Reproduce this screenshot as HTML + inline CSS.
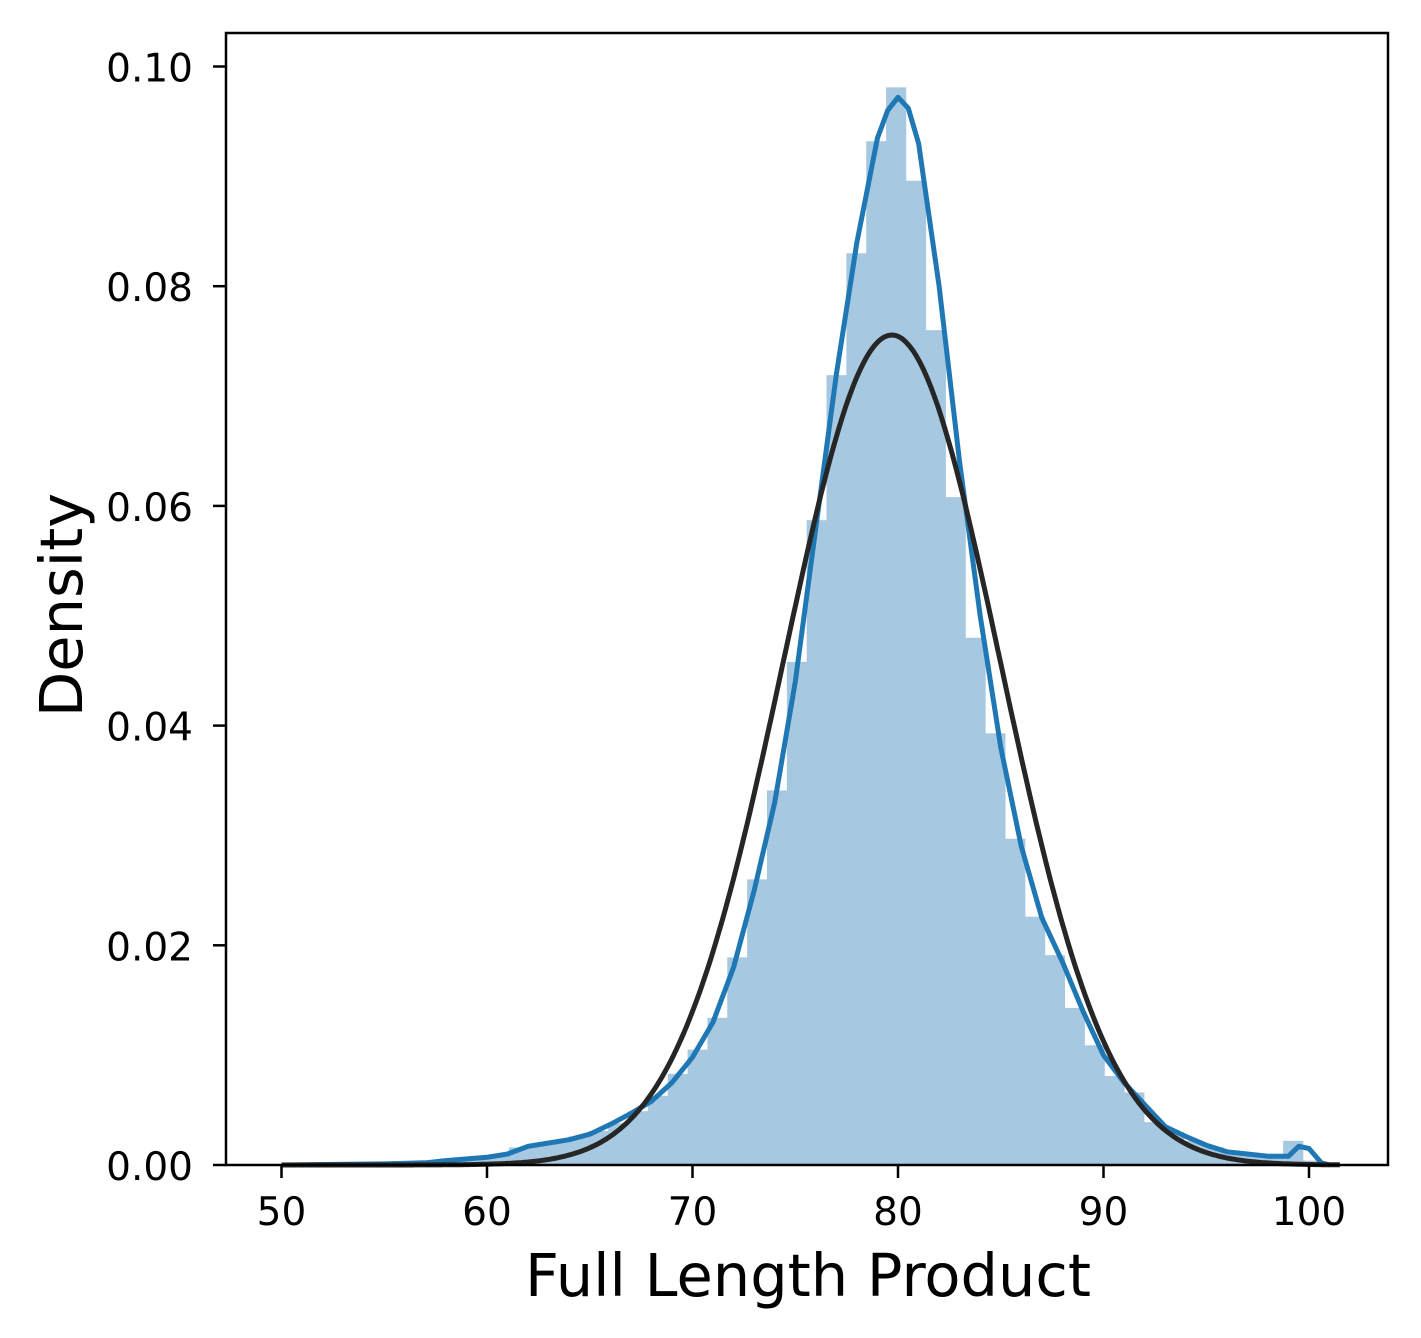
<!DOCTYPE html>
<html><head><meta charset="utf-8"><style>
html,body{margin:0;padding:0;background:#fff;}
svg{display:block;font-family:"DejaVu Sans","Liberation Sans",sans-serif;}
</style></head><body>
<svg id="chart" width="1421" height="1338" viewBox="0 0 1421 1338" xmlns="http://www.w3.org/2000/svg">
<rect width="1421" height="1338" fill="#fff"/>
<g id="bars"></g>
<g id="lines"></g>
<g id="axes"></g>
<text x="808" y="1296" font-size="59" text-anchor="middle">Full Length Product</text>
<text transform="translate(82,605) rotate(-90)" font-size="59" text-anchor="middle">Density</text>
</svg>
<script>
const binStart = 50.44;
const binWidth = 0.966;
const binHeights = [0,0,0,0.0001,0.0001,0.0002,0.0002,0.0003,0.0004,0.0006,
0.0010,0.0016,0.0019,0.0022,0.0026,0.0031,0.0038,0.0049,0.0063,0.0083,
0.0105,0.0134,0.0189,0.0260,0.0341,0.0458,0.0587,0.0719,0.0830,0.0932,
0.0981,0.0896,0.0760,0.0608,0.0480,0.0393,0.0297,0.0226,0.0191,0.0143,
0.0109,0.0081,0.0066,0.0039,0.0030,0.0022,0.0016,0.0011,0.0008,0.0007,
0.0022,0.0004];
const kdeX = [50,55,57,58,60,61,62,63,64,65,66,67,68,69,70,71,72,73,74,75,76,77,78,79,79.5,80,80.5,81,82,83,84,85,86,87,88,89,90,91,92,93,94,95,96,97,98,99,99.5,100,100.6,101];
const kdeY = [0,0.0001,0.0002,0.0004,0.0007,0.0010,0.0017,0.0020,0.0023,0.0028,0.0037,0.0047,0.0058,0.0075,0.0098,0.0130,0.0180,0.0250,0.0330,0.0440,0.0580,0.0720,0.0840,0.0935,0.0960,0.0972,0.0962,0.0930,0.0800,0.0640,0.0500,0.0380,0.0290,0.0225,0.0185,0.0140,0.0100,0.0075,0.0055,0.0035,0.0026,0.0018,0.0012,0.0010,0.0008,0.0008,0.0017,0.0015,0.0002,0];
const normMu = [79.7];
const normSigma = [5.28];
const normRange = [50, 101.5];
const xTicks = [50,60,70,80,90,100];
const yTicks = [0,0.02,0.04,0.06,0.08,0.10];
const yTickLabels = ["0.00","0.02","0.04","0.06","0.08","0.10"];

const NS="http://www.w3.org/2000/svg";
const L=226,R=1388,T=33,B=1165;
function xs(v){return 281.5+(v-50)*20.55;}
function ys(v){return 1165-v*10985;}
function mk(tag,attrs,parent){const e=document.createElementNS(NS,tag);for(const k in attrs)e.setAttribute(k,attrs[k]);parent.appendChild(e);return e;}

const bars=document.getElementById('bars');
binHeights.forEach((h,i)=>{
  const x0=xs(binStart+i*binWidth),x1=xs(binStart+(i+1)*binWidth);
  const r=mk('rect',{x:x0,y:ys(h),width:x1-x0+0.3,height:ys(0)-ys(h),fill:'#a6c8e0'},bars);
  
  
});

const lines=document.getElementById('lines');
const kp=kdeX.map((x,i)=>xs(x).toFixed(1)+','+ys(kdeY[i]).toFixed(1)).join(' ');
const kl=mk('polyline',{points:kp,fill:'none',stroke:'#1f77b4','stroke-width':5,'stroke-linejoin':'round'},lines);



const np=[];
for(let k=0;k<=300;k++){
  const x=normRange[0]+(normRange[1]-normRange[0])*k/300;
  const y=Math.exp(-0.5*Math.pow((x-normMu[0])/normSigma[0],2))/(normSigma[0]*Math.sqrt(2*Math.PI));
  np.push(xs(x).toFixed(1)+','+ys(y).toFixed(1));
}
const nl=mk('polyline',{points:np.join(' '),fill:'none',stroke:'#262626','stroke-width':5,'stroke-linejoin':'round'},lines);



const axes=document.getElementById('axes');
const fr=mk('rect',{x:L,y:T,width:R-L,height:B-T,fill:'none',stroke:'#000','stroke-width':2.5},axes);


xTicks.forEach(v=>{
  const t=mk('line',{x1:xs(v),x2:xs(v),y1:B,y2:B+13,stroke:'#000','stroke-width':2.5},axes);
  
  
  const tx=mk('text',{x:xs(v),y:B+60,'font-size':39,'text-anchor':'middle'},axes);
  tx.textContent=String(v);
  
  
});
yTicks.forEach((v,i)=>{
  const t=mk('line',{x1:L-13,x2:L,y1:ys(v),y2:ys(v),stroke:'#000','stroke-width':2.5},axes);
  
  
  const tx=mk('text',{x:L-33,y:ys(v)+15,'font-size':39,'text-anchor':'end'},axes);
  tx.textContent=yTickLabels[i];
  
  
});
</script>
</body></html>
